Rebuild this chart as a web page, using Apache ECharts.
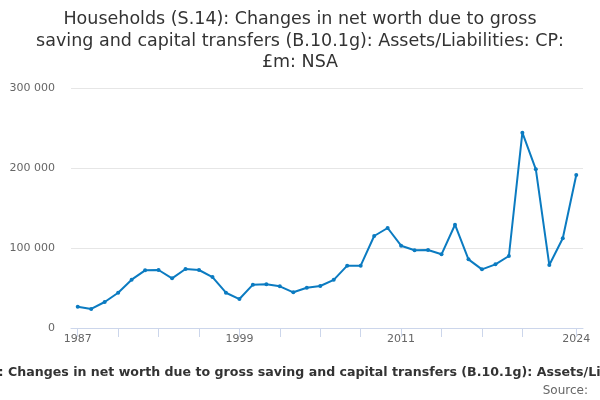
<!DOCTYPE html>
<html>
<head>
<meta charset="utf-8">
<script src="https://cdn.jsdelivr.net/npm/echarts@6/dist/echarts.min.js"></script>
<style>
  html, body { margin: 0; padding: 0; background: #fff; }
  #chart { width: 600px; height: 400px; }
</style>
</head>
<body>
<div id="chart"></div>
<script>
var years = [];
for (var y = 1987; y <= 2024; ++y) {
  years.push(String(y));
}

// £m
var netWorth = [
  26600, 23800, 32500, 44100, 60400, 72100, 72500, 62100, 73700, 72500,
  63700, 44100, 36200, 54200, 54600, 52100, 44600, 50400, 52500, 60200,
  77900, 77900, 115000, 125000, 102900, 97100, 97500, 92100, 129100, 85800,
  73300, 79600, 90000, 244100, 198300, 78700, 112100, 191200
];

var yTicks = [0, 100000, 200000, 300000];

var titleText = 'Households (S.14): Changes in net worth due to gross\n' +
  'saving and capital transfers (B.10.1g): Assets/Liabilities: CP:\n' +
  '£m: NSA';
var footText = 'Households (S.14): Changes in net worth due to gross saving and capital transfers (B.10.1g): Assets/Liabilities: CP: £m: NSA';

var lastIdx = years.length - 1;

var chart = echarts.init(document.getElementById('chart'));
chart.setOption({
  animation: false,
  textStyle: { fontFamily: 'DejaVu Sans' },
  title: {
    text: titleText,
    left: 'center',
    top: 4,
    textStyle: {
      fontFamily: 'DejaVu Sans',
      fontSize: 17.5,
      fontWeight: 'normal',
      color: '#333',
      lineHeight: 21.5
    }
  },
  grid: { left: 71, right: 17, top: 88, bottom: 72 },
  xAxis: {
    type: 'category',
    data: years,
    boundaryGap: true,
    axisLine: { lineStyle: { color: '#ccd6eb' } },
    axisTick: {
      show: true,
      alignWithLabel: true,
      length: 9,
      lineStyle: { color: '#ccd6eb', width: 1 },
      interval: function(i) {
        return (i % 3 === 0 && i < 36) || i === lastIdx;
      }
    },
    axisLabel: {
      color: '#666',
      fontSize: 11,
      margin: 6,
      interval: function(i) {
        return (i % 12 === 0 && i < 36) || i === lastIdx;
      }
    },
    splitLine: { show: false }
  },
  yAxis: {
    type: 'value',
    min: yTicks[0],
    max: yTicks[yTicks.length - 1],
    interval: 100000,
    axisLine: { show: false },
    axisTick: { show: false },
    axisLabel: {
      color: '#666',
      fontSize: 11,
      margin: 16,
      formatter: function(v) {
        return String(v).replace(/\B(?=(\d{3})+(?!\d))/g, ' ');
      }
    },
    splitLine: { lineStyle: { color: '#e6e6e6' } }
  },
  series: [{
    type: 'line',
    data: netWorth,
    color: '#0b7bc1',
    lineStyle: { width: 2 },
    symbol: 'circle',
    symbolSize: 4,
    showSymbol: true
  }],
  graphic: [{
    type: 'text',
    x: 312,
    y: 366,
    style: {
      text: footText,
      textAlign: 'center',
      textVerticalAlign: 'top',
      font: 'bold 12.6px DejaVu Sans',
      fill: '#333'
    }
  }, {
    type: 'text',
    right: 12,
    top: 385,
    style: {
      text: 'Source:',
      font: '12px DejaVu Sans',
      fill: '#666'
    }
  }]
});
</script>
</body>
</html>
